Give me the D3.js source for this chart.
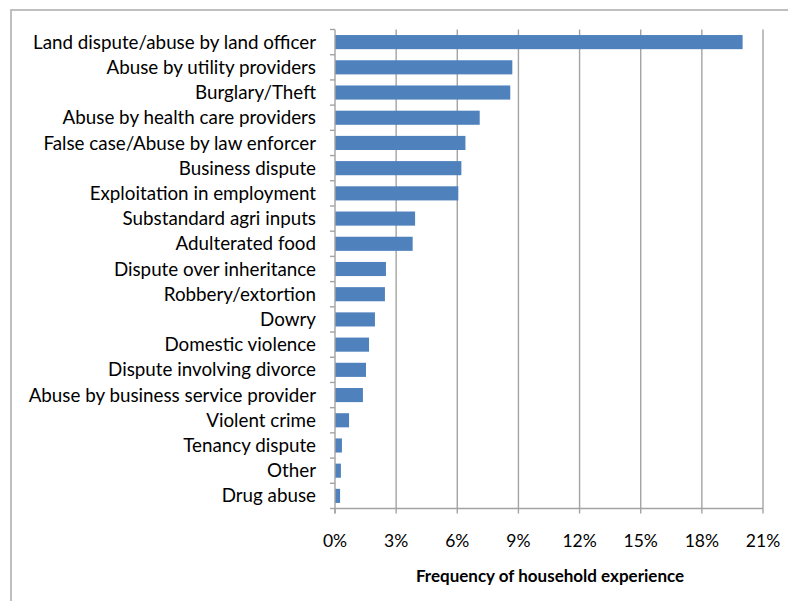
<!DOCTYPE html>
<html>
<head>
<meta charset="utf-8">
<script src="https://cdn.jsdelivr.net/npm/d3@7"></script>
<style>
  html, body { margin: 0; padding: 0; background: #fff; }
  svg { display: block; }
  text { font-family: Lato, "Open Sans", sans-serif; fill: #000; }
</style>
</head>
<body>
<svg id="chart" width="788" height="601"></svg>
<script>
// Problem categories, top to bottom
const categories = [
  "Land dispute/abuse by land officer",
  "Abuse by utility providers",
  "Burglary/Theft",
  "Abuse by health care providers",
  "False case/Abuse by law enforcer",
  "Business dispute",
  "Exploitation in employment",
  "Substandard agri inputs",
  "Adulterated food",
  "Dispute over inheritance",
  "Robbery/extortion",
  "Dowry",
  "Domestic violence",
  "Dispute involving divorce",
  "Abuse by business service provider",
  "Violent crime",
  "Tenancy dispute",
  "Other",
  "Drug abuse"
];

// Share of households reporting each problem (%)
const frequency = [
  20.0, 8.7, 8.6, 7.1, 6.4, 6.2, 6.05, 3.93, 3.81,
  2.5, 2.45, 1.96, 1.67, 1.52, 1.37, 0.69, 0.34, 0.29, 0.25
];

// Axis ticks (%)
const xTicks = [0, 3, 6, 9, 12, 15, 18, 21];

const axisTitle = "Frequency of household experience";

const svg = d3.select("#chart");
const gridColor = "#a3a3a3";
const barColor = "#4f81bd";

const plot = { left: 335, right: 763, top: 29.5, bottom: 508.5 };

// Outer chart frame
svg.append("rect")
  .attr("x", 11).attr("y", 10)
  .attr("width", 800).attr("height", 620)
  .attr("fill", "none")
  .attr("stroke", "#b0b0b0")
  .attr("stroke-width", 1.6);

const x = d3.scaleLinear().domain([0, 21]).range([plot.left, plot.right]);
const y = d3.scaleBand()
  .domain(categories)
  .range([plot.top, plot.bottom])
  .paddingInner(0.44)
  .paddingOuter(0.22);

const step = y.step();
const bandStart = d => y(d) - y.paddingOuter() * step;

// Vertical gridlines
svg.append("g")
  .selectAll("line")
  .data(xTicks.filter(t => t > 0))
  .join("line")
  .attr("x1", d => x(d)).attr("x2", d => x(d))
  .attr("y1", plot.top).attr("y2", plot.bottom)
  .attr("stroke", gridColor)
  .attr("stroke-width", 1.4);

// Bars
svg.append("g")
  .selectAll("rect")
  .data(categories)
  .join("rect")
  .attr("x", x(0))
  .attr("y", d => y(d))
  .attr("width", (d, i) => x(frequency[i]) - x(0))
  .attr("height", y.bandwidth())
  .attr("fill", barColor);

// Category axis line and boundary ticks
const yAxis = svg.append("g");
yAxis.append("line")
  .attr("x1", plot.left).attr("x2", plot.left)
  .attr("y1", plot.top).attr("y2", plot.bottom + 5)
  .attr("stroke", gridColor).attr("stroke-width", 1.4);
yAxis.selectAll("line.tick")
  .data(d3.range(categories.length + 1))
  .join("line")
  .attr("class", "tick")
  .attr("x1", plot.left - 5).attr("x2", plot.left)
  .attr("y1", i => plot.top + i * step).attr("y2", i => plot.top + i * step)
  .attr("stroke", gridColor).attr("stroke-width", 1.4);
yAxis.selectAll("text")
  .data(categories)
  .join("text")
  .attr("x", 316)
  .attr("y", d => bandStart(d) + step / 2)
  .attr("dy", "0.35em")
  .attr("text-anchor", "end")
  .style("font-size", "18.8px")
  .text(d => d);

// Value axis
const xAxis = svg.append("g");
xAxis.append("line")
  .attr("x1", plot.left).attr("x2", plot.right)
  .attr("y1", plot.bottom).attr("y2", plot.bottom)
  .attr("stroke", gridColor).attr("stroke-width", 1.4);
xAxis.selectAll("line.tick")
  .data(xTicks)
  .join("line")
  .attr("class", "tick")
  .attr("x1", d => x(d)).attr("x2", d => x(d))
  .attr("y1", plot.bottom).attr("y2", plot.bottom + 5)
  .attr("stroke", gridColor).attr("stroke-width", 1.4);
xAxis.selectAll("text")
  .data(xTicks)
  .join("text")
  .attr("x", d => x(d))
  .attr("y", 547)
  .attr("text-anchor", "middle")
  .style("font-size", "17.5px")
  .text(d => d + "%");

svg.append("text")
  .attr("x", (plot.left + plot.right) / 2 + 1)
  .attr("y", 582)
  .attr("text-anchor", "middle")
  .style("font-size", "17px")
  .style("font-weight", "bold")
  .text(axisTitle);
</script>
</body>
</html>
